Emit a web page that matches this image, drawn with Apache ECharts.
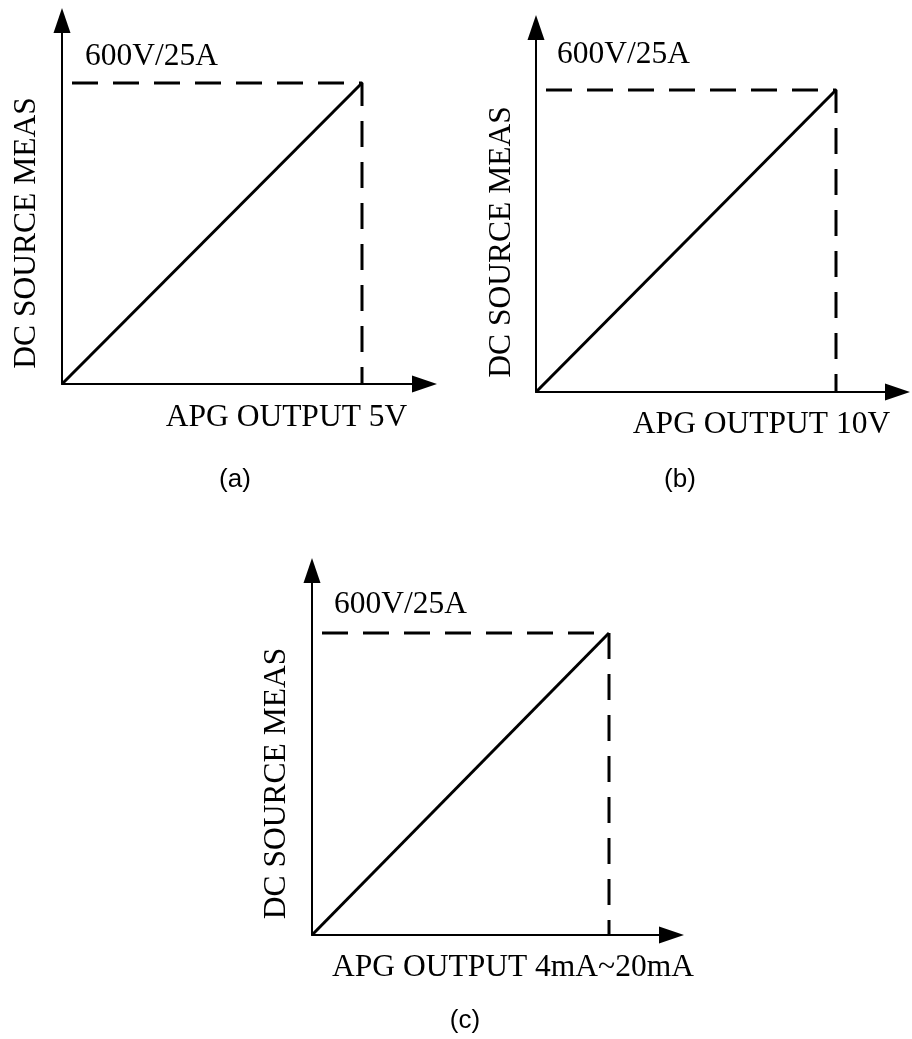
<!DOCTYPE html>
<html>
<head>
<meta charset="utf-8">
<script src="https://cdn.jsdelivr.net/npm/echarts@6/dist/echarts.min.js"></script>
<style>
  html, body { margin: 0; padding: 0; background: #ffffff; }
  #chart { width: 912px; height: 1039px; }
</style>
</head>
<body>
<div id="chart"></div>
<script>
// ---- data ----
const panelTags = ['(a)', '(b)', '(c)'];
const xAxisTitles = ['APG OUTPUT 5V', 'APG OUTPUT 10V', 'APG OUTPUT 4mA~20mA'];
const yAxisTitle = 'DC SOURCE MEAS';
const ratingLabel = '600V/25A';
const xStart = [0, 0, 4];      // APG output at zero
const xFull = [5, 10, 20];     // APG output at full scale
const yStart = [0, 0, 0];
const yFull = [600, 600, 600]; // DC source full-scale

// ---- layout (pixels) ----
const layout = [
  { origin: [62, 384], corner: [362, 83], tipX: 437, tipY: 8,
    rating: [85, 56.5], xTitle: [286.5, 417.5], yTitle: [27, 233], tag: [235, 479.5] },
  { origin: [536, 392], corner: [836, 90], tipX: 910, tipY: 15,
    rating: [557, 54.5], xTitle: [761.5, 424.5], yTitle: [502, 242], tag: [680, 479.5] },
  { origin: [312, 935], corner: [609, 633], tipX: 684, tipY: 558,
    rating: [334, 604.5], xTitle: [513, 967.5], yTitle: [277, 783.5], tag: [465, 1021] }
];
const arrowW = 17, arrowL = 25;
const serif = 'Liberation Serif';
const sans = 'Liberation Sans';

const grids = [], xAxes = [], yAxes = [], series = [], graphics = [];

layout.forEach((L, i) => {
  const left = L.origin[0];
  const width = L.tipX - arrowL / 2 - left;
  const top = L.tipY + arrowL / 2;
  const height = L.origin[1] - top;
  const xMax = xStart[i] + (xFull[i] - xStart[i]) * width / (L.corner[0] - L.origin[0]);
  const yMax = yStart[i] + (yFull[i] - yStart[i]) * height / (L.origin[1] - L.corner[1]);
  grids.push({ left: left, top: top, width: width, height: height, containLabel: false });
  const axisCommon = {
    gridIndex: i,
    type: 'value',
    splitLine: { show: false },
    axisTick: { show: false },
    axisLabel: { show: false },
    axisLine: {
      show: true, onZero: false,
      symbol: ['none', 'triangle'],
      symbolSize: [arrowW, arrowL],
      lineStyle: { color: '#000', width: 2 }
    }
  };
  xAxes.push(Object.assign({}, axisCommon, { min: xStart[i], max: xMax }));
  yAxes.push(Object.assign({}, axisCommon, { min: yStart[i], max: yMax }));

  // transfer line
  series.push({
    type: 'line', xAxisIndex: i, yAxisIndex: i,
    data: [[xStart[i], yStart[i]], [xFull[i], yFull[i]]],
    symbol: 'none', silent: true, animation: false,
    lineStyle: { color: '#000', width: 3 }
  });
  // full-scale guide (dashed)
  series.push({
    type: 'line', xAxisIndex: i, yAxisIndex: i,
    data: [[xStart[i], yFull[i]], [xFull[i], yFull[i]], [xFull[i], yStart[i]]],
    symbol: 'none', silent: true, animation: false,
    lineStyle: { color: '#000', width: 3, type: [26, 15], dashOffset: 31, cap: 'butt' }
  });

  // texts
  graphics.push({
    type: 'text', x: L.rating[0], y: L.rating[1], silent: true,
    style: { text: ratingLabel, font: '31.5px "' + serif + '"', fill: '#000',
             align: 'left', verticalAlign: 'middle' }
  });
  graphics.push({
    type: 'text', x: L.xTitle[0], y: L.xTitle[1], silent: true,
    style: { text: xAxisTitles[i], font: '31.5px "' + serif + '"', fill: '#000',
             align: 'center', verticalAlign: 'middle' }
  });
  graphics.push({
    type: 'text', x: L.yTitle[0], y: L.yTitle[1], rotation: Math.PI / 2, silent: true,
    style: { text: yAxisTitle, font: '31.5px "' + serif + '"', fill: '#000',
             align: 'center', verticalAlign: 'middle' }
  });
  graphics.push({
    type: 'text', x: L.tag[0], y: L.tag[1], silent: true,
    style: { text: panelTags[i], font: '26px "' + sans + '"', fill: '#000',
             align: 'center', verticalAlign: 'middle' }
  });
});

const chart = echarts.init(document.getElementById('chart'), null, { renderer: 'canvas', width: 912, height: 1039 });
chart.setOption({
  backgroundColor: '#ffffff',
  animation: false,
  grid: grids,
  xAxis: xAxes,
  yAxis: yAxes,
  series: series,
  graphic: graphics
});
</script>
</body>
</html>
